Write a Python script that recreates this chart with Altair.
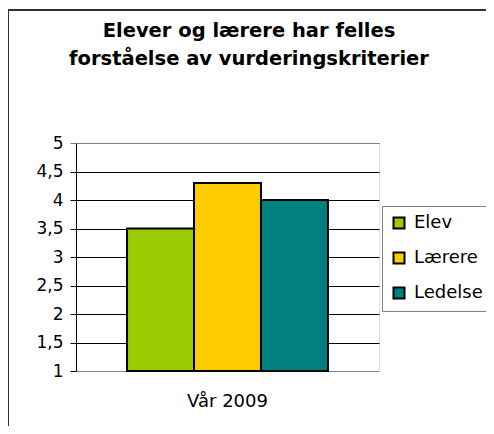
import altair as alt
import pandas as pd

title_lines = ["Elever og lærere har felles", "forståelse av vurderingskriterier"]
period = ["Vår 2009"]
series = ["Elev", "Lærere", "Ledelse"]
values = [3.5, 4.3, 4.0]
colors = ["#99CC00", "#FFCC00", "#008080"]
y_ticks = [1, 1.5, 2, 2.5, 3, 3.5, 4, 4.5, 5]

df = pd.DataFrame({
    "periode": period * len(series),
    "gruppe": series,
    "verdi": values,
})

FONT = "DejaVu Sans"

bars = alt.Chart(df).mark_bar(stroke="black", strokeWidth=2, opacity=1).encode(
    x=alt.X("periode:N",
            scale=alt.Scale(paddingInner=0, paddingOuter=0.254),
            axis=alt.Axis(title=None, labelAngle=0, ticks=False, domain=False,
                          labelPadding=21, labelFont=FONT, labelFontSize=18,
                          labelColor="black", grid=False)),
    xOffset=alt.XOffset("gruppe:N", sort=series,
                        scale=alt.Scale(paddingInner=0, paddingOuter=0)),
    y=alt.Y("verdi:Q",
            scale=alt.Scale(domain=[1, 5], zero=False, nice=False),
            axis=alt.Axis(title=None, values=y_ticks,
                          labelExpr="replace(format(datum.value, '.1~f'), '.', ',')",
                          labelFont=FONT, labelFontSize=17, labelColor="black",
                          labelPadding=7, tickSize=6,
                          tickColor={"condition": {"test": "datum.value == 5", "value": "#808080"}, "value": "black"},
                          domainColor="black", domainWidth=1,
                          grid=True,
                          gridColor={"condition": {"test": "datum.value == 5 || datum.value == 1", "value": "#808080"}, "value": "black"},
                          gridWidth=1, gridOpacity=1)),
    y2=alt.datum(1),
    fill=alt.Fill("gruppe:N", sort=series,
                  scale=alt.Scale(domain=series, range=colors),
                  legend=alt.Legend(title=None, orient="none", legendX=306, legendY=63,
                                    strokeColor="#808080", fillColor="white", padding=8,
                                    symbolType="square", symbolSize=121,
                                    symbolStrokeColor="black", symbolStrokeWidth=2,
                                    symbolOpacity=1, symbolFillColor="white",
                                    labelFont=FONT, labelFontSize=18, labelColor="black",
                                    labelOffset=6, rowPadding=15)),
)

frame = alt.Chart(pd.DataFrame({"a": [0]})).mark_rect(
    fill=None, stroke="#333333", strokeWidth=2
).encode(
    x=alt.value(-68), x2=alt.value(430), y=alt.value(-133), y2=alt.value(300)
)

title1 = alt.Chart(pd.DataFrame({"t": [title_lines[0]]})).mark_text(
    font=FONT, fontSize=19.5, fontWeight="bold", color="black",
    align="center", baseline="alphabetic"
).encode(x=alt.value(173), y=alt.value(-106), text="t:N")

title2 = alt.Chart(pd.DataFrame({"t": [title_lines[1]]})).mark_text(
    font=FONT, fontSize=19.5, fontWeight="bold", color="black",
    align="center", baseline="alphabetic"
).encode(x=alt.value(173), y=alt.value(-78), text="t:N")

chart = alt.layer(frame, bars, title1, title2).properties(
    width=303,
    height=228,
    autosize=alt.AutoSizeParams(type="none"),
    padding={"left": 68, "top": 135, "right": 107, "bottom": 55},
).configure_view(
    stroke="#808080", strokeWidth=1.5
).configure(background="white")

chart.save("out.html", embed_options={"renderer": "svg", "actions": False})
